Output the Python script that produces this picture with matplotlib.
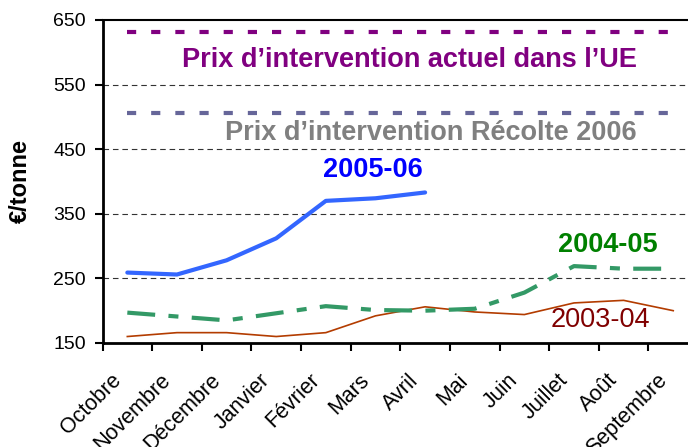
import matplotlib.pyplot as plt
import matplotlib.transforms as mtransforms
import numpy as np

plt.rcParams['font.family'] = ['Liberation Sans', 'DejaVu Sans']

mois = ['Octobre', 'Novembre', 'Décembre', 'Janvier', 'Février', 'Mars',
        'Avril', 'Mai', 'Juin', 'Juillet', 'Août', 'Septembre']

prix_2005_06 = [259, 256, 278, 312, 370, 374, 383]
prix_2004_05 = [197, 191, 185, 196, 207, 201, 200, 203, 228, 269, 265, 265]
prix_2003_04 = [160, 166, 166, 160, 166, 192, 206, 198, 194, 212, 216, 200]

prix_ue_actuel = 631.9
prix_recolte_2006 = 505.5

fig = plt.figure(figsize=(6.88, 4.47), dpi=100)
ax = fig.add_axes([0.149, 0.2327, 0.8656, 0.7226])

x = np.arange(len(mois))

# grille horizontale en pointillés
for v in [250, 350, 450, 550]:
    ax.axhline(v, color='#333333', lw=0.8, ls=(0, (5, 3.5)), zorder=1)

ax.plot([0, 11], [prix_ue_actuel] * 2, color='#800080', lw=3,
        ls=(0, (2.2, 3.6)), dash_capstyle='butt', zorder=2)
ax.plot([0, 11], [prix_recolte_2006] * 2, color='#666699', lw=3,
        ls=(0, (2.2, 3.6)), dash_capstyle='butt', zorder=2)

ax.plot(x[:len(prix_2003_04)], prix_2003_04, color='#B33C00', lw=1.2, zorder=3)
ax.plot(x[:len(prix_2004_05)], prix_2004_05, color='#339966', lw=3,
        ls=(0, (6.7, 3.2, 2.4, 3.2)), dash_capstyle='butt', zorder=3)
ax.plot(x[:len(prix_2005_06)], prix_2005_06, color='#3366FF', lw=3,
        solid_capstyle='round', zorder=4)

fs = 19.5
ax.text(5.68, 588, 'Prix d\u2019intervention actuel dans l\u2019UE', color='#800080',
        fontsize=fs, fontweight='bold', ha='center', va='center')
ax.text(6.11, 475, 'Prix d\u2019intervention Récolte 2006', color='#808080',
        fontsize=fs, fontweight='bold', ha='center', va='center')
ax.text(4.94, 418, '2005-06', color='#0000FF', fontsize=fs, fontweight='bold',
        ha='center', va='center')
ax.text(9.68, 302, '2004-05', color='#008000', fontsize=fs, fontweight='bold',
        ha='center', va='center')
ax.text(9.53, 186, '2003-04', color='#800000', fontsize=fs,
        ha='center', va='center')

ax.set_xlim(-0.5, 11.5)
ax.set_ylim(150, 650)
ax.set_yticks(np.arange(150, 651, 100))
ax.set_xticks(np.arange(-0.5, 12, 1))
ax.set_xticklabels([])
ax.set_xticks(x, minor=True)
ax.set_xticklabels(mois, minor=True, rotation=45, ha='right', va='top',
                   rotation_mode='anchor', fontsize=15.5)
ax.tick_params(axis='x', which='minor', length=0, pad=10)
ax.tick_params(axis='both', which='major', length=6, width=1.5, labelsize=14)
ax.tick_params(axis='y', pad=6)

shift = mtransforms.ScaledTranslation(-0.17, -0.13, fig.dpi_scale_trans)
for lbl in ax.get_xticklabels(minor=True):
    lbl.set_transform(lbl.get_transform() + shift)

for s in ['left', 'bottom']:
    ax.spines[s].set_linewidth(2)
ax.spines['top'].set_linewidth(1.5)
ax.spines['right'].set_visible(False)

ax.set_ylabel('€/tonne', fontsize=17, fontweight='bold', labelpad=15)

fig.savefig('out.png', dpi=100)
